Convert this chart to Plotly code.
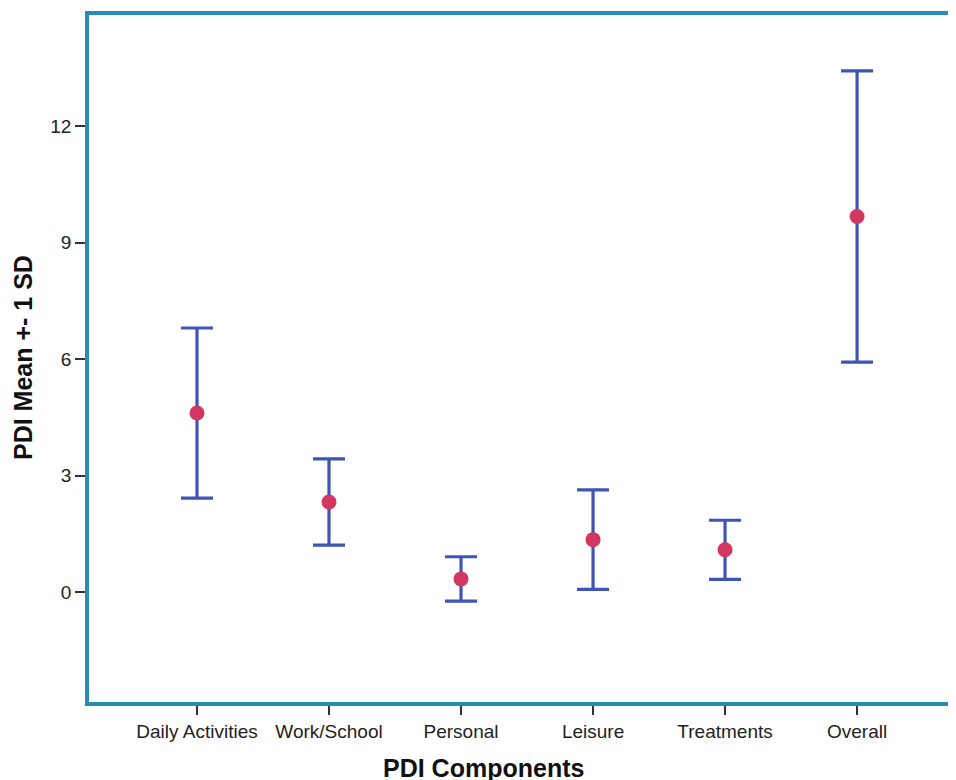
import plotly.graph_objects as go

categories = ["Daily Activities", "Work/School", "Personal", "Leisure", "Treatments", "Overall"]
means = [4.61, 2.32, 0.34, 1.35, 1.09, 9.67]
sds = [2.19, 1.11, 0.57, 1.28, 0.76, 3.75]
y_ticks = [0, 3, 6, 9, 12]

W, H = 956, 780
OFF = 8  # page body margin
L, R, T, B = 81, 0, 7, 86

fig = go.Figure()
fig.add_trace(go.Scatter(
    x=categories, y=means, mode="markers",
    marker=dict(size=15, color="#d3365f", line=dict(width=0)),
    error_y=dict(type="data", array=sds, visible=True, color="#3f55b5",
                 thickness=3.2, width=16),
    showlegend=False, hoverinfo="skip",
))

pw = W - L - R
ph = H - T - B


def px_x(px):
    return (px - OFF - L) / pw


def px_y(py):
    return (H - (py - OFF) - B) / ph


fig.update_layout(
    width=W, height=H,
    margin=dict(l=L, r=R, t=T, b=B, pad=0),
    paper_bgcolor="white", plot_bgcolor="white",
    font=dict(family="Liberation Sans, Arial, sans-serif", color="#222222"),
    xaxis=dict(
        type="category", range=[-0.818, 5.81],
        showgrid=False, zeroline=False,
        showline=True, linecolor="#2b8cb3", linewidth=3.5, mirror=True,
        ticks="outside", ticklen=9, tickwidth=1.5, tickcolor="#333333",
        tickfont=dict(size=19, color="#222222"),
    ),
    yaxis=dict(
        range=[-2.83, 14.86], tickvals=y_ticks,
        showgrid=False, zeroline=False,
        showline=True, linecolor="#2b8cb3", linewidth=3.5, mirror=False,
        ticks="outside", ticklen=10, tickwidth=1.5, tickcolor="#333333",
        tickfont=dict(size=19, color="#222222"),
    ),
    annotations=[
        dict(text="<b>PDI Components</b>", x=px_x(483), y=px_y(768), xref="paper", yref="paper",
             showarrow=False, font=dict(size=25, color="#111111"),
             xanchor="center", yanchor="middle"),
        dict(text="<b>PDI Mean +- 1 SD</b>", x=px_x(23), y=px_y(358), xref="paper", yref="paper",
             showarrow=False, textangle=-90, font=dict(size=25, color="#111111"),
             xanchor="center", yanchor="middle"),
    ],
)

fig.write_html("out.html")
